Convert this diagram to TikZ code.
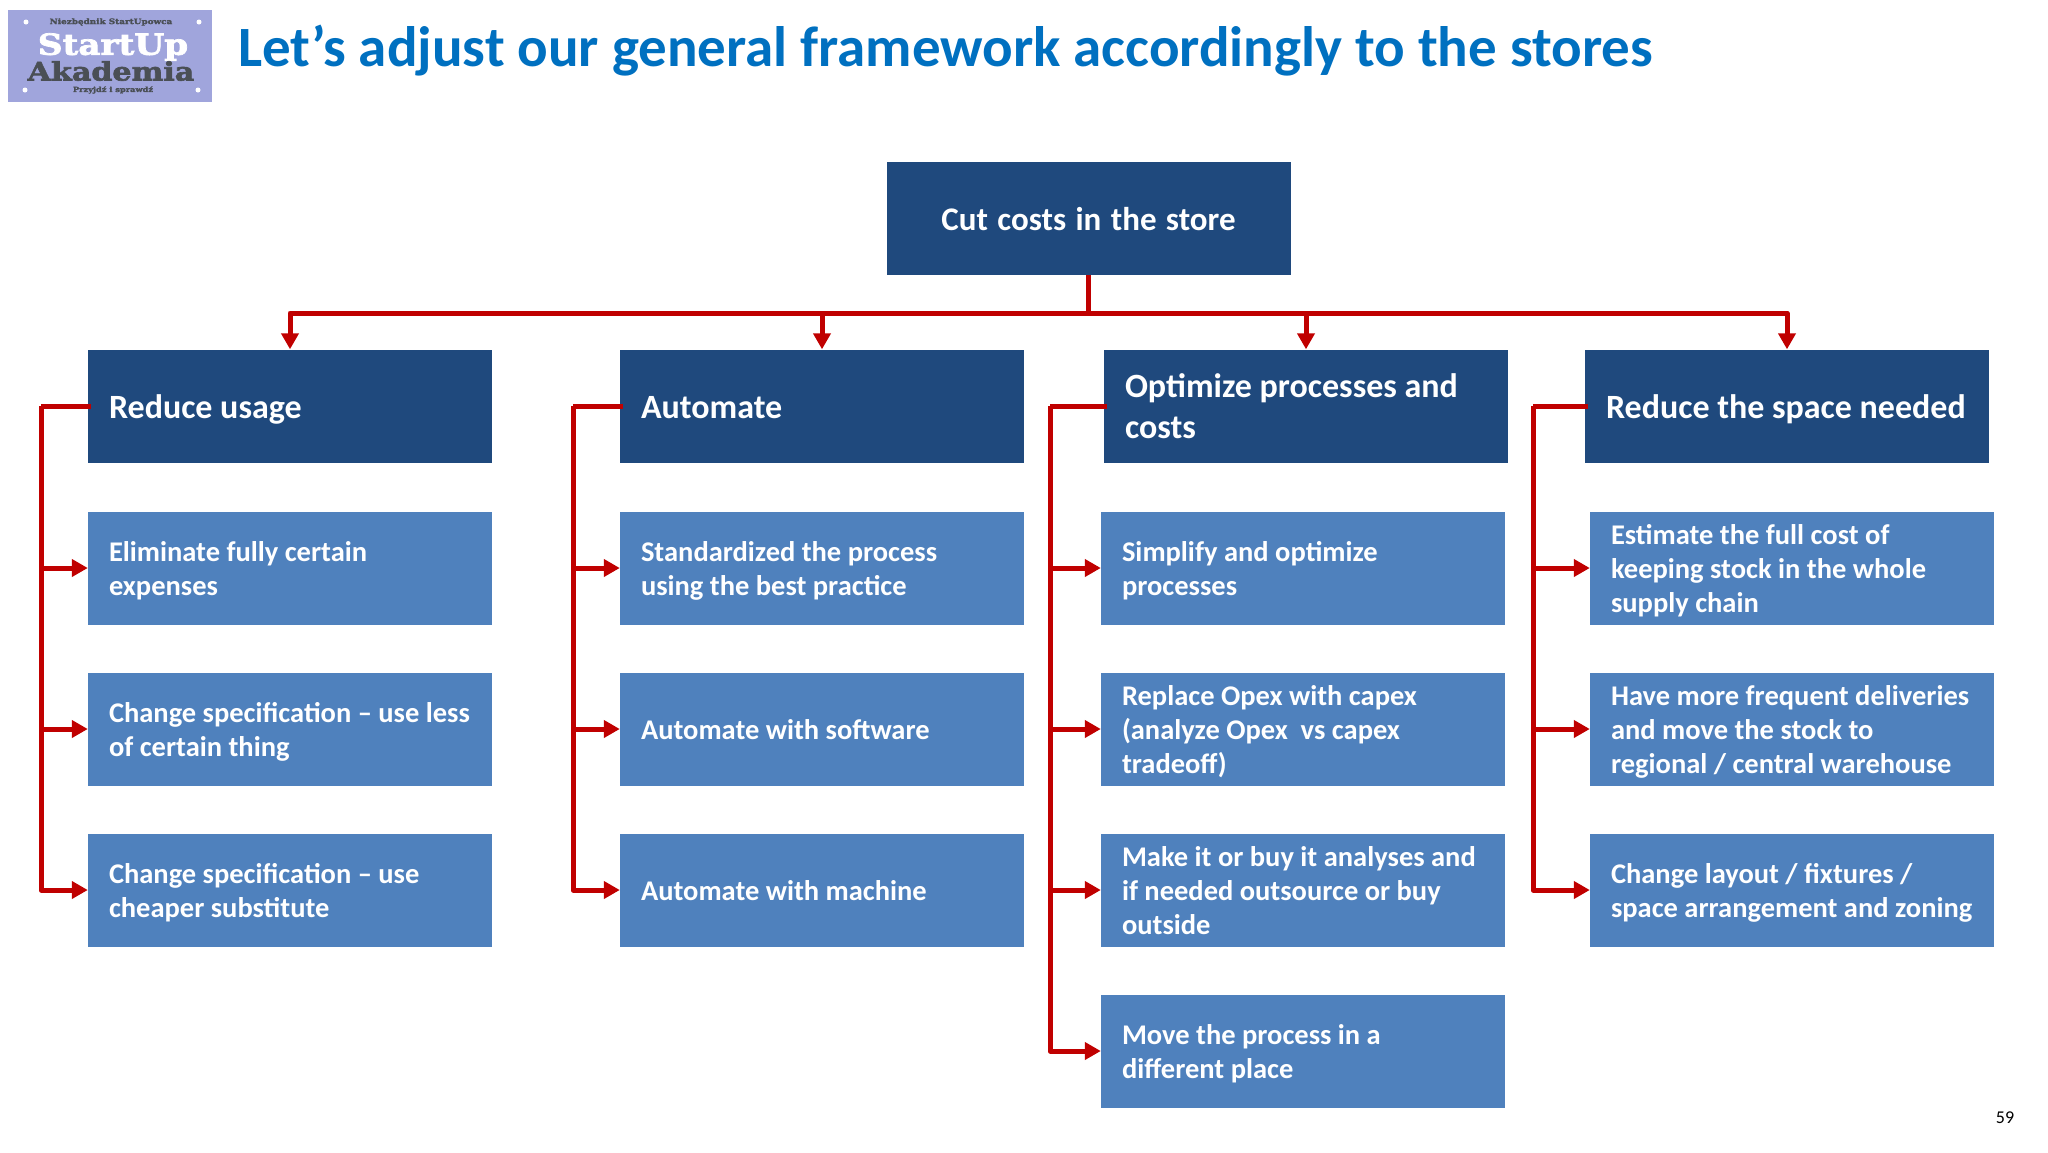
\documentclass[tikz,border=0pt]{standalone}
\usepackage{fontspec}
\setmainfont{Carlito}
\newfontfamily\logofont{DejaVu Serif}[FakeStretch=1.18,BoldFeatures={FakeBold=2.5}]
\usetikzlibrary{arrows.meta}
\definecolor{navy}{HTML}{1F497D}
\definecolor{steel}{HTML}{4F81BD}
\definecolor{linkred}{HTML}{C00000}
\definecolor{titleblue}{HTML}{0070C0}
\definecolor{logobg}{HTML}{A0A5DC}
\definecolor{logodark}{HTML}{4A4F55}
\newcommand\boxstrut{\rule[-0.2\baselineskip]{0pt}{\baselineskip}}
\tikzset{
  box/.style={rectangle,inner xsep=21pt,inner ysep=0pt,minimum height=113pt,
    text width=362pt,align=left,text=white,
    execute at begin node={\spaceskip=0pt\xspaceskip=0pt\boxstrut},execute at end node={\boxstrut}},
  wide/.style={execute at begin node={\rightskip=-20pt plus 1fil\relax}},
  head/.style={box,fill=navy,font=\bfseries\fontsize{34}{41}\selectfont},
  sub/.style={box,wide,fill=steel,font=\bfseries\fontsize{28.5}{34}\selectfont},
  line/.style={linkred,line width=5pt,line join=round},
  arr/.style={line,-{Triangle[length=16pt,width=17pt]}}
}
\begin{document}
\begin{tikzpicture}[x=1pt,y=-1pt]
\useasboundingbox (0,0) rectangle (2048,1152);

% logo
\node (logo) at (110,56) [rectangle,fill=logobg,minimum width=204pt,minimum height=92pt,inner sep=0pt] {};
\node (logoa) at (111,22) [logodark,font=\logofont\bfseries\fontsize{7.5}{8}\selectfont] {Niezbędnik StartUpowca};
\node (logob) at (113,47) [white,font=\logofont\bfseries\fontsize{29}{30}\selectfont] {StartUp};
\node (logoc) at (111,71) [logodark,font=\logofont\bfseries\fontsize{25.5}{30}\selectfont] {Akademia};
\node (logod) at (113,90) [logodark,font=\logofont\bfseries\fontsize{7}{7}\selectfont] {Przyjdź i sprawdź};
\foreach \n/\px/\py in {d1/26/22,d2/199/22,d3/25/90,d4/198/90}
  \node (\n) at (\px,\py) [circle,fill=white,inner sep=0pt,minimum size=5pt] {};

% title and page number
\node (title) at (238,51) [anchor=west,inner sep=0pt,titleblue,font=\bfseries\fontsize{57}{64}\selectfont] {Let’s adjust our general framework accordingly to the stores};
\node (page) at (2005,1118) [inner sep=0pt,font=\fontsize{18}{20}\selectfont] {59};

% boxes
\node (top) at (1088.5,218.5) [head,align=center,font=\bfseries\fontsize{33}{41}\selectfont] {Cut costs in the store};

\node (h1) at (290,406) [head] {Reduce usage};
\node (h2) at (822,406) [head] {Automate};
\node (h3) at (1306,406) [head] {Optimize processes and\\costs};
\node (h4) at (1787,406) [head] {Reduce the space needed};

\node (s11) at (290,568) [sub] {Eliminate fully certain\\expenses};
\node (s12) at (290,729) [sub] {Change specification – use less\\of certain thing};
\node (s13) at (290,890) [sub] {Change specification – use\\cheaper substitute};

\node (s21) at (822,568) [sub] {Standardized the process\\using the best practice};
\node (s22) at (822,729) [sub] {Automate with software};
\node (s23) at (822,890) [sub] {Automate with machine};

\node (s31) at (1303,568) [sub] {Simplify and optimize\\processes};
\node (s32) at (1303,729) [sub] {Replace Opex with capex\\(analyze Opex~ vs capex\\tradeoff)};
\node (s33) at (1303,890) [sub] {Make it or buy it analyses and\\if needed outsource or buy\\outside};
\node (s34) at (1303,1051) [sub] {Move the process in a\\different place};

\node (s41) at (1792,568) [sub] {Estimate the full cost of\\keeping stock in the whole\\supply chain};
\node (s42) at (1792,729) [sub] {Have more frequent deliveries\\and move the stock to\\regional / central warehouse};
\node (s43) at (1792,890) [sub] {Change layout / fixtures /\\space arrangement and zoning};

% connectors
\coordinate (bus) at (1088.5,313);
\draw[line] (top.south) -- (bus);
\foreach \h in {h1,h2,h3,h4}
  \draw[arr] (bus) -| (\h.north);

\coordinate (b1) at (41,406);
\coordinate (b2) at (573,406);
\coordinate (b3) at (1050,406);
\coordinate (b4) at (1533,406);
\foreach \h/\b in {h1/b1,h2/b2,h3/b3,h4/b4}
  \draw[line] ([xshift=3pt]\h.west) -- (\b);
\foreach \b/\s in {b1/s11,b1/s12,b1/s13,b2/s21,b2/s22,b2/s23,b3/s31,b3/s32,b3/s33,b3/s34,b4/s41,b4/s42,b4/s43}
  \draw[arr] (\b) |- (\s.west);
\end{tikzpicture}
\end{document}
